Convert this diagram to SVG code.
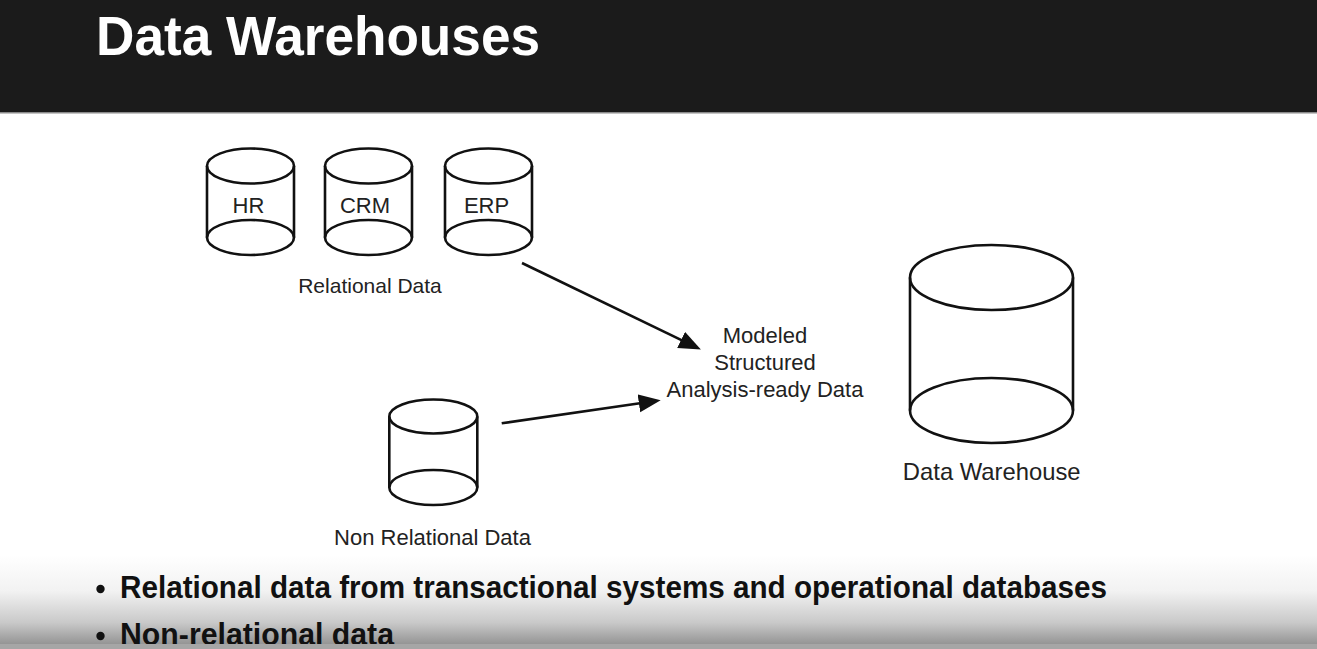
<svg xmlns="http://www.w3.org/2000/svg" width="1317" height="649" viewBox="0 0 1317 649">
<style>
.cyl{fill:none;stroke:#111;stroke-width:2.6}
.lbl{font-family:"Liberation Sans",Arial,sans-serif;fill:#222;text-anchor:middle}
.bul{font-family:"Liberation Sans",Arial,sans-serif;font-weight:bold;fill:#111;font-size:32px}
.conn{stroke:#111;stroke-width:2.6;fill:none}
</style>
<defs>
<linearGradient id="fade" x1="0" y1="0" x2="0" y2="1">
<stop offset="0" stop-color="#ffffff"/>
<stop offset="0.4" stop-color="#f2f2f2"/>
<stop offset="0.75" stop-color="#c9c9c9"/>
<stop offset="1" stop-color="#929292"/>
</linearGradient>
<marker id="ah" markerUnits="userSpaceOnUse" markerWidth="24" markerHeight="20" refX="1" refY="9" orient="auto">
<path d="M0,0 L22,9 L0,18 Z" fill="#111"/>
</marker>
</defs>
<rect x="0" y="0" width="1317" height="649" fill="#ffffff"/>
<rect x="0" y="555" width="1317" height="90" fill="url(#fade)"/>
<g id="header">
<rect x="0" y="0" width="1317" height="112" fill="#1b1b1b"/>
<rect x="0" y="112" width="1317" height="1.5" fill="#8a8a8a"/>
<text x="96" y="55" font-family="'Liberation Sans',Arial,sans-serif" font-weight="bold" font-size="56" fill="#ffffff" textLength="444" lengthAdjust="spacingAndGlyphs">Data Warehouses</text>
</g>
<g id="node-hr">
<ellipse class="cyl" cx="250.5" cy="166" rx="43.5" ry="17.5"/>
<ellipse class="cyl" cx="250.5" cy="237.5" rx="43.5" ry="17.5"/>
<line class="cyl" x1="207" y1="166" x2="207" y2="237.5"/>
<line class="cyl" x1="294" y1="166" x2="294" y2="237.5"/>
<text class="lbl" x="248.5" y="213" font-size="22">HR</text>
</g>
<g id="node-crm">
<ellipse class="cyl" cx="368.5" cy="166" rx="43.5" ry="17.5"/>
<ellipse class="cyl" cx="368.5" cy="237.5" rx="43.5" ry="17.5"/>
<line class="cyl" x1="325" y1="166" x2="325" y2="237.5"/>
<line class="cyl" x1="412" y1="166" x2="412" y2="237.5"/>
<text class="lbl" x="365" y="213" font-size="22">CRM</text>
</g>
<g id="node-erp">
<ellipse class="cyl" cx="488.5" cy="166" rx="43.5" ry="17.5"/>
<ellipse class="cyl" cx="488.5" cy="237.5" rx="43.5" ry="17.5"/>
<line class="cyl" x1="445" y1="166" x2="445" y2="237.5"/>
<line class="cyl" x1="532" y1="166" x2="532" y2="237.5"/>
<text class="lbl" x="486.5" y="213" font-size="22">ERP</text>
</g>
<g id="label-relational">
<text class="lbl" x="370" y="293" font-size="21">Relational Data</text>
</g>
<g id="node-nonrelational">
<ellipse class="cyl" cx="433.3" cy="416.5" rx="44" ry="17"/>
<ellipse class="cyl" cx="433.3" cy="487.5" rx="44" ry="17.5"/>
<line class="cyl" x1="389.3" y1="416.5" x2="389.3" y2="487.5"/>
<line class="cyl" x1="477.3" y1="416.5" x2="477.3" y2="487.5"/>
<text class="lbl" x="432.5" y="545" font-size="22">Non Relational Data</text>
</g>
<g id="node-modeled">
<text class="lbl" x="765" y="342.7" font-size="22">Modeled</text>
<text class="lbl" x="765" y="370" font-size="22">Structured</text>
<text class="lbl" x="765" y="396.7" font-size="22">Analysis-ready Data</text>
</g>
<g id="node-warehouse">
<ellipse class="cyl" cx="991.5" cy="277.5" rx="81.5" ry="32.5"/>
<ellipse class="cyl" cx="991.5" cy="410.5" rx="81.5" ry="32.5"/>
<line class="cyl" x1="910" y1="277.5" x2="910" y2="410.5"/>
<line class="cyl" x1="1073" y1="277.5" x2="1073" y2="410.5"/>
<text class="lbl" x="991.7" y="480" font-size="23.8">Data Warehouse</text>
</g>
<g id="connectors">
<line class="conn" x1="522" y1="263" x2="682" y2="340.4" marker-end="url(#ah)"/>
<line class="conn" x1="501.7" y1="423.3" x2="639.9" y2="403.2" marker-end="url(#ah)"/>
</g>
<g id="bullets">
<circle cx="100.5" cy="589" r="4.2" fill="#111"/>
<text class="bul" x="120" y="598" textLength="987" lengthAdjust="spacingAndGlyphs">Relational data from transactional systems and operational databases</text>
<circle cx="100.5" cy="636" r="4.2" fill="#111"/>
<text class="bul" x="120" y="645" textLength="274" lengthAdjust="spacingAndGlyphs">Non-relational data</text>
</g>
<rect x="0" y="644" width="1317" height="5" fill="#a6a6a6"/>
</svg>
